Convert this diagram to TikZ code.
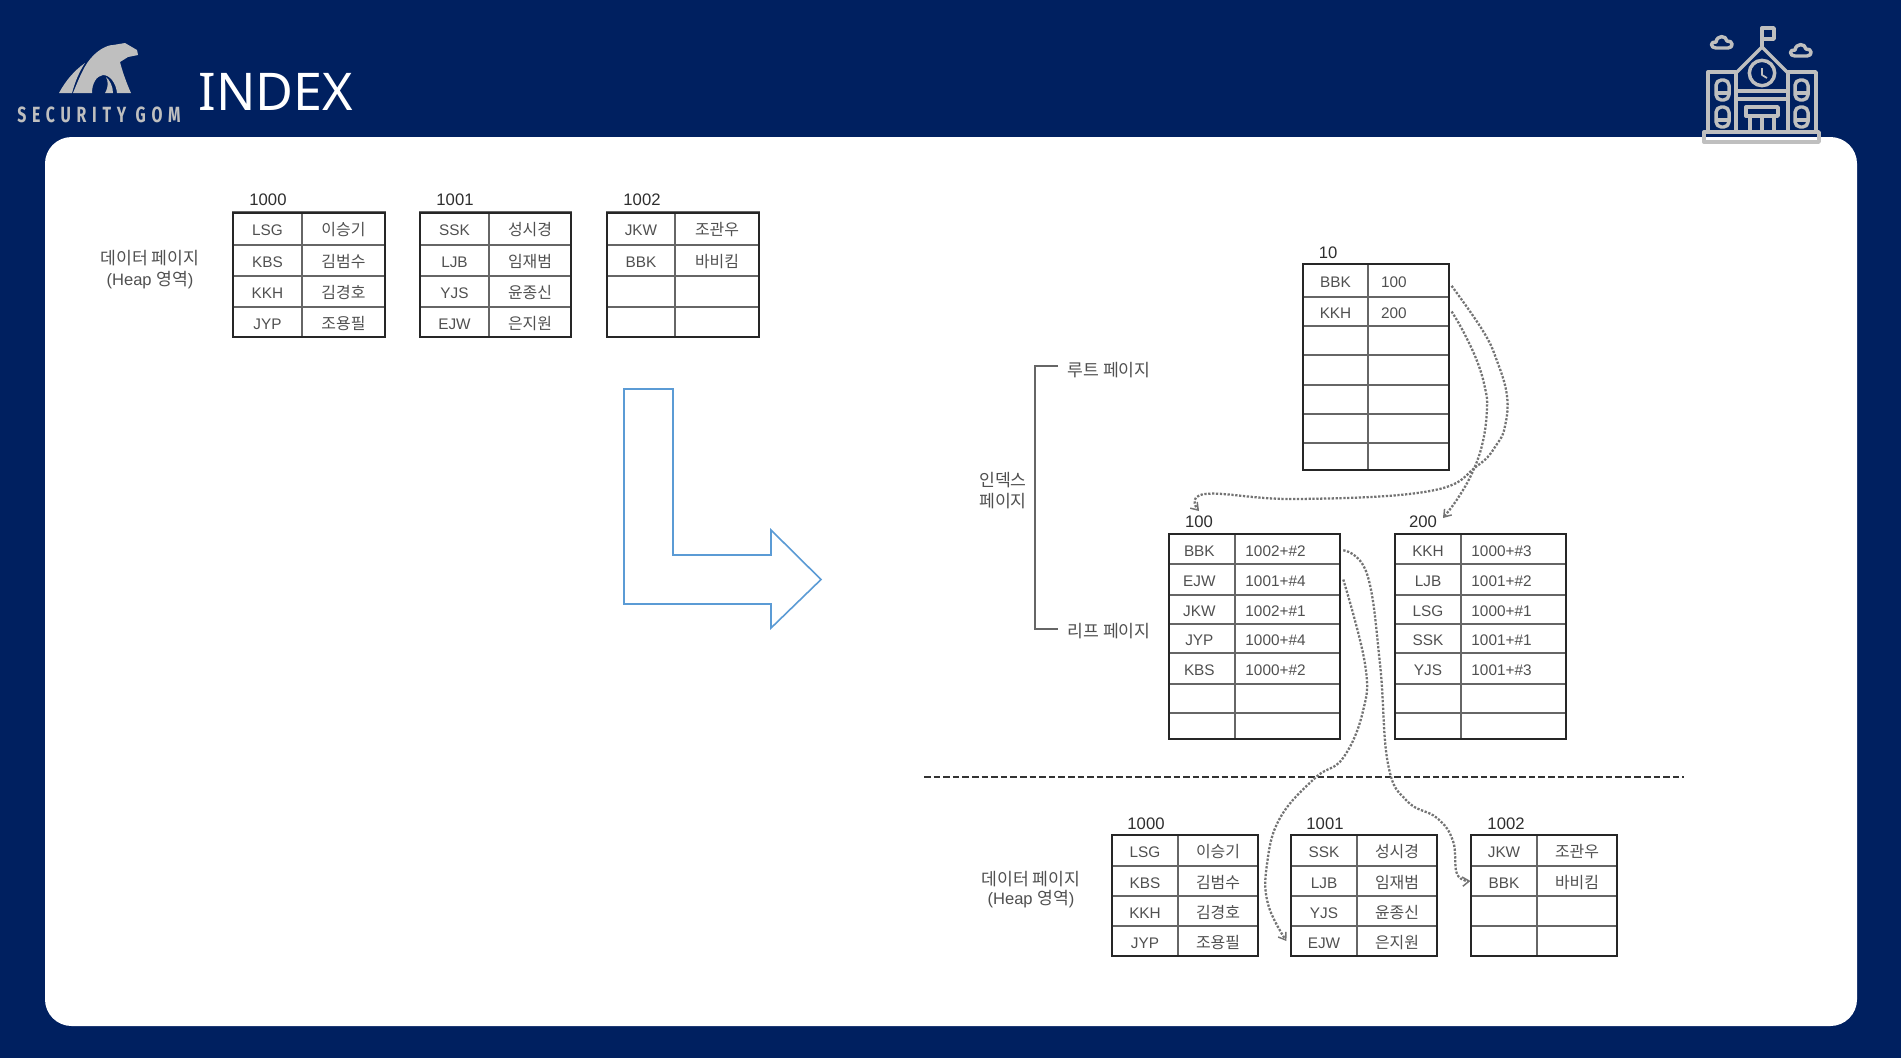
\documentclass[tikz,border=0pt]{standalone}
\usepackage{fontspec}
\setmainfont{Liberation Sans}
\newfontfamily\kr[Scale=1.04]{Noto Sans CJK KR}
\newfontfamily\titlefont{Noto Sans}
\newfontfamily\logofont[FakeStretch=0.72,LetterSpace=26]{Fira Sans}
\usetikzlibrary{arrows.meta}
\definecolor{navy}{HTML}{002060}
\definecolor{logogray}{HTML}{BFBFBF}
\definecolor{arrowblue}{HTML}{5B9BD5}
\definecolor{inkA}{HTML}{2E2E2E}
\definecolor{inkB}{HTML}{505050}
\tikzset{
  cellbox/.style={draw=black!60,line width=0.9pt,inner sep=0pt,text height=11pt,text depth=0pt,font=\fontsize{11.5}{13}\selectfont,text=inkB},
  framebox/.style={draw=black!85,line width=1.5pt,inner sep=0pt},
  pagelabel/.style={font=\fontsize{12.5}{14}\selectfont,text=inkA,inner sep=0pt},
  sidelabel/.style={font=\fontsize{12.4}{14}\selectfont,text=inkB,inner sep=0pt},
  dotconn/.style={draw=black!55,line width=1.7pt,dash pattern=on 1.7pt off 1.2pt,-{Straight Barb[length=5pt,width=7pt,line width=1.1pt]}},
  iconline/.style={draw=logogray,line width=2.6pt,line join=round},
}
% name, row, xl, xm, xr, ytop, ybot, left text, right text
\newcommand{\tablerow}[9]{%
  \node[cellbox,minimum width={(#4-#3)*0.75pt},minimum height={(#7-#6)*0.75pt}] (#1-#2-a) at ({(#3+#4)/2},{(#6+#7)/2}) {#8};
  \node[cellbox,minimum width={(#5-#4)*0.75pt},minimum height={(#7-#6)*0.75pt}] (#1-#2-b) at ({(#4+#5)/2},{(#6+#7)/2}) {#9};
}
\newcommand{\tableframe}[5]{%
  \node[framebox,minimum width={(#3-#2)*0.75pt},minimum height={(#5-#4)*0.75pt}] (#1) at ({(#2+#3)/2},{(#4+#5)/2}) {};
}
\newcommand{\iconwindow}[2]{%
  \draw[iconline,rounded corners=4pt] (#1,#2) rectangle (#1+13,#2+20);
  \draw[iconline] (#1,#2+13) -- (#1+13,#2+13);
}
\newcommand{\iconcloud}[2]{%
  \begin{scope}[shift={(#1,#2)}]
  \draw[iconline] (-6,5) .. controls (-12,5) and (-12,-2) .. (-6,-1) .. controls (-5,-8) and (4,-8) .. (5,-2) .. controls (11,-3) and (12,5) .. (6,5) -- cycle;
  \end{scope}
}
\newcommand{\lfa}[1]{#1\hspace{18pt}\null}
\newcommand{\lfb}[1]{#1\hspace{22pt}\null}
\newcommand{\lfc}[1]{#1\hspace{4pt}\null}
\begin{document}
\begin{tikzpicture}[x=0.75pt,y=-0.75pt]
\useasboundingbox (0,0) rectangle (1901,1058);
\fill[navy] (0,0) rectangle (1901,1058);
\fill[white,rounded corners=20pt] (45,137) rectangle (1857,1026);

% logo
\fill[logogray] (59,93) .. controls (66,80) and (75,70) .. (85,63) .. controls (79,72) and (75,82) .. (72,93) -- cycle;
\fill[logogray] (73,93) .. controls (80,76) and (85,64) .. (92,57) .. controls (99,49) and (108,45) .. (113,45) -- (125,43) -- (137,50) -- (138,55) -- (128,57) -- (120,62) .. controls (122,70) and (126,82) .. (131,93) -- (117,93) .. controls (116,83) and (110,75) .. (103,75) .. controls (96,76) and (92,84) .. (92,93) -- cycle;
\fill[logogray] (105,93) .. controls (109,86) and (108,81) .. (106,77) .. controls (110,80) and (113,87) .. (113,93) -- cycle;
\node[text=logogray,inner sep=0pt,font={\logofont\fontsize{16.5}{18}\selectfont\bfseries}] (logotext) at (99,115) {SECURITY GOM};
\node[text=white,inner sep=0pt,font={\titlefont\fontsize{39}{44}\selectfont}] (title) at (276,92) {INDEX};

% school icon
\draw[iconline] (1704,132) rectangle (1819,142);
\draw[iconline] (1708,132) -- (1708,72) -- (1736,72) -- (1736,132);
\draw[iconline] (1816,132) -- (1816,72) -- (1788,72) -- (1788,132);
\draw[iconline] (1736,73) -- (1762,47) -- (1788,73);
\draw[iconline] (1762,47) -- (1762,28) -- (1774,28) -- (1774,39) -- (1762,39);
\draw[iconline] (1762,73) circle[radius=9.5pt];
\draw[iconline,line width=1.3pt] (1762,68) -- (1762,75) -- (1767,78);
\draw[iconline] (1736,91) -- (1788,91) (1736,99) -- (1788,99);
\draw[iconline] (1746,107) rectangle (1778,116);
\draw[iconline] (1750,116) -- (1750,132) (1762,116) -- (1762,132) (1774,116) -- (1774,132);
\iconwindow{1716}{80}\iconwindow{1716}{107}\iconwindow{1795}{80}\iconwindow{1795}{107}
\iconcloud{1722}{43}\iconcloud{1801}{51}

% top data pages
\node[pagelabel] (t0lab) at (268,200) {1000};
\node[pagelabel] (t1lab) at (455,200) {1001};
\node[pagelabel] (t2lab) at (642,200) {1002};
\tablerow{t0}{1}{233}{302}{385}{211.5}{245}{LSG}{\kr 이승기}
\tablerow{t0}{2}{233}{302}{385}{245}{275.5}{KBS}{\kr 김범수}
\tablerow{t0}{3}{233}{302}{385}{276}{306.5}{KKH}{\kr 김경호}
\tablerow{t0}{4}{233}{302}{385}{307.5}{337}{JYP}{\kr 조용필}
\tableframe{t0}{233}{385}{213}{337}
\tablerow{t1}{1}{420}{489}{571}{211.5}{245}{SSK}{\kr 성시경}
\tablerow{t1}{2}{420}{489}{571}{245}{275.5}{LJB}{\kr 임재범}
\tablerow{t1}{3}{420}{489}{571}{276}{306.5}{YJS}{\kr 윤종신}
\tablerow{t1}{4}{420}{489}{571}{307.5}{337}{EJW}{\kr 은지원}
\tableframe{t1}{420}{571}{213}{337}
\tablerow{t2}{1}{607}{675}{759}{211.5}{245}{JKW}{\kr 조관우}
\tablerow{t2}{2}{607}{675}{759}{245}{275.5}{BBK}{\kr 바비킴}
\tablerow{t2}{3}{607}{675}{759}{276}{306.5}{}{}
\tablerow{t2}{4}{607}{675}{759}{307.5}{337}{}{}
\tableframe{t2}{607}{759}{213}{337}
\node[sidelabel] (heapA) at (150,258) {\kr 데이터 페이지};
\node[sidelabel] (heapB) at (150,280) {(Heap {\kr 영역})};

% hollow arrow
\node[coordinate] (arrowstart) at (624,389) {};
\draw[arrowblue,line width=1.2pt,line join=miter] (arrowstart) -- (673,389) -- (673,555) -- (771,555) -- (771,530) -- (821,579.5) -- (771,628) -- (771,604) -- (624,604) -- cycle;

\begin{scope}[yshift=-0.75pt]
% root page
\node[pagelabel] (rootlab) at (1328,252) {10};
\tablerow{root}{1}{1303}{1368}{1449}{263}{296}{BBK}{\lfb{100}}
\tablerow{root}{2}{1303}{1368}{1449}{296}{325}{KKH}{\lfb{200}}
\tablerow{root}{3}{1303}{1368}{1449}{325}{354}{}{}
\tablerow{root}{4}{1303}{1368}{1449}{354}{384}{}{}
\tablerow{root}{5}{1303}{1368}{1449}{384}{413}{}{}
\tablerow{root}{6}{1303}{1368}{1449}{413}{442}{}{}
\tablerow{root}{7}{1303}{1368}{1449}{442}{469}{}{}
\tableframe{root}{1303}{1449}{263}{469}

% leaf pages
\node[pagelabel] (leafAlab) at (1199,521) {100};
\node[pagelabel] (leafBlab) at (1423,521) {200};
\tablerow{la}{1}{1169}{1235}{1340}{533}{563}{\lfc{BBK}}{\lfa{1002+\#2}}
\tablerow{la}{2}{1169}{1235}{1340}{563}{594}{\lfc{EJW}}{\lfa{1001+\#4}}
\tablerow{la}{3}{1169}{1235}{1340}{594}{623}{\lfc{JKW}}{\lfa{1002+\#1}}
\tablerow{la}{4}{1169}{1235}{1340}{623}{652}{\lfc{JYP}}{\lfa{1000+\#4}}
\tablerow{la}{5}{1169}{1235}{1340}{652}{683}{\lfc{KBS}}{\lfa{1000+\#2}}
\tablerow{la}{6}{1169}{1235}{1340}{683}{712}{}{}
\tablerow{la}{7}{1169}{1235}{1340}{712}{738}{}{}
\tableframe{la}{1169}{1340}{533}{738}
\tablerow{lb}{1}{1395}{1461}{1566}{533}{563}{KKH}{\lfa{1000+\#3}}
\tablerow{lb}{2}{1395}{1461}{1566}{563}{594}{LJB}{\lfa{1001+\#2}}
\tablerow{lb}{3}{1395}{1461}{1566}{594}{623}{LSG}{\lfa{1000+\#1}}
\tablerow{lb}{4}{1395}{1461}{1566}{623}{652}{SSK}{\lfa{1001+\#1}}
\tablerow{lb}{5}{1395}{1461}{1566}{652}{683}{YJS}{\lfa{1001+\#3}}
\tablerow{lb}{6}{1395}{1461}{1566}{683}{712}{}{}
\tablerow{lb}{7}{1395}{1461}{1566}{712}{738}{}{}
\tableframe{lb}{1395}{1566}{533}{738}

% separator
\node[coordinate] (sepL) at (924,776) {};
\node[coordinate] (sepR) at (1684,776) {};
\draw[black!80,line width=1.5pt,dash pattern=on 5pt off 2.2pt] (sepL) -- (sepR);

% bottom data pages
\node[pagelabel] (b0lab) at (1146,823) {1000};
\node[pagelabel] (b1lab) at (1325,823) {1001};
\node[pagelabel] (b2lab) at (1506,823) {1002};
\tablerow{b0}{1}{1112}{1178}{1258}{834}{865}{LSG}{\kr 이승기}
\tablerow{b0}{2}{1112}{1178}{1258}{865}{895}{KBS}{\kr 김범수}
\tablerow{b0}{3}{1112}{1178}{1258}{895}{925}{KKH}{\kr 김경호}
\tablerow{b0}{4}{1112}{1178}{1258}{925}{955}{JYP}{\kr 조용필}
\tableframe{b0}{1112}{1258}{834}{955}
\tablerow{b1}{1}{1291}{1357}{1437}{834}{865}{SSK}{\kr 성시경}
\tablerow{b1}{2}{1291}{1357}{1437}{865}{895}{LJB}{\kr 임재범}
\tablerow{b1}{3}{1291}{1357}{1437}{895}{925}{YJS}{\kr 윤종신}
\tablerow{b1}{4}{1291}{1357}{1437}{925}{955}{EJW}{\kr 은지원}
\tableframe{b1}{1291}{1437}{834}{955}
\tablerow{b2}{1}{1471}{1537}{1617}{834}{865}{JKW}{\kr 조관우}
\tablerow{b2}{2}{1471}{1537}{1617}{865}{895}{BBK}{\kr 바비킴}
\tablerow{b2}{3}{1471}{1537}{1617}{895}{925}{}{}
\tablerow{b2}{4}{1471}{1537}{1617}{925}{955}{}{}
\tableframe{b2}{1471}{1617}{834}{955}

% side labels
\node[sidelabel] (rootpage) at (1109,369) {\kr 루트 페이지};
\node[sidelabel] (leafpage) at (1109,630) {\kr 리프 페이지};
\node[sidelabel] (idxA) at (1003,479) {\kr 인덱스};
\node[sidelabel] (idxB) at (1003,500) {\kr 페이지};
\node[sidelabel] (heapC) at (1031,878) {\kr 데이터 페이지};
\node[sidelabel] (heapD) at (1031,898) {(Heap {\kr 영역})};
\node[coordinate] (brT) at (1058,365) {};
\node[coordinate] (brB) at (1058,628) {};
\draw[black!60,line width=1pt] (brT) -- (1035,365) -- (1035,628) -- (brB);

% connectors
\node[coordinate] (tipA) at (1199,510) {};
\node[coordinate] (tipB) at (1443,517) {};
\draw[dotconn] plot[smooth,tension=0.7] coordinates {([xshift=1.5pt,yshift=-4pt]root-1-b.east) (1483,330) (1497,360) (1507,395) (1505,425) (1497,443) (1477,465) (1430,490) (1297,498) (1205,493) (tipA)};
\draw[dotconn] plot[smooth,tension=0.7] coordinates {([xshift=1.5pt]root-2-b.east) (1463,330) (1477,360) (1485,387) (1487,407) (1483,440) (1473,470) (1458,497) (tipB)};
\draw[dotconn] plot[smooth,tension=0.7] coordinates {([xshift=2pt]la-2-b.east) (1365,663) (1363,710) (1343,757) (1315,777) (1280,817) (1267,863) (1268,903) ([xshift=-3pt]b1-4-a.west)};
\draw[dotconn] plot[smooth,tension=0.7] coordinates {([xshift=2pt,yshift=-1pt]la-1-b.east) (1367,573) (1380,663) (1388,763) (1407,800) (1437,817) (1453,840) (1457,873) (b2-2-a.west)};
\end{scope}
\end{tikzpicture}
\end{document}
